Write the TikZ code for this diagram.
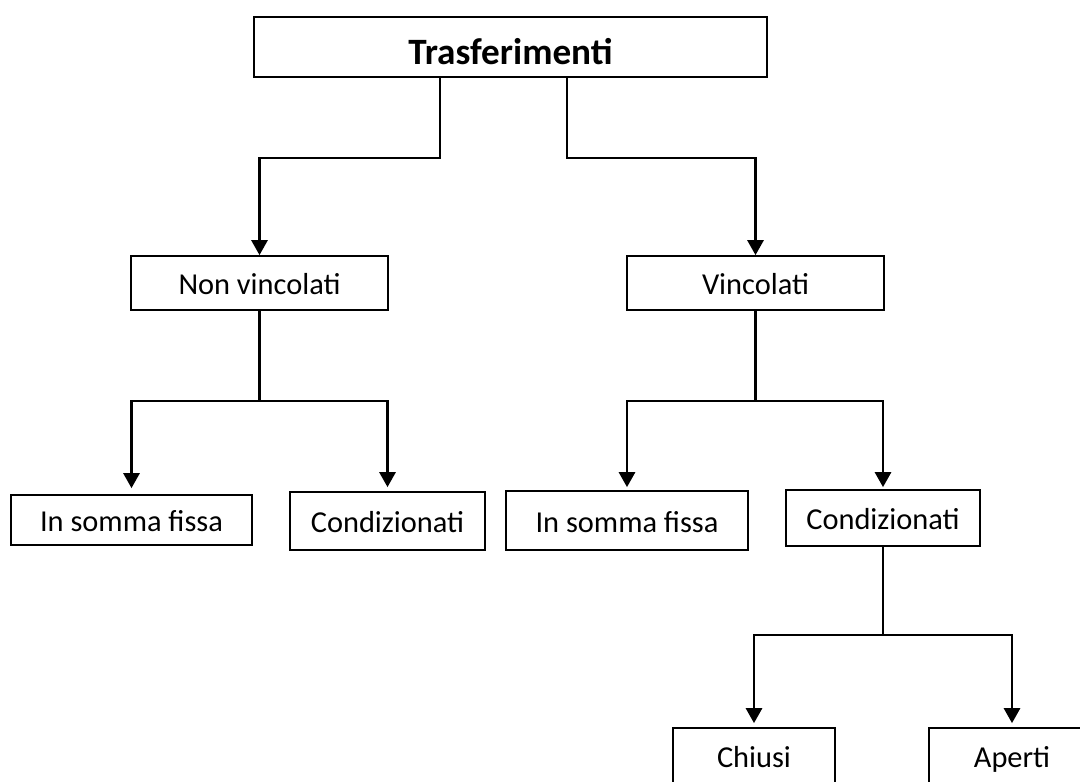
\documentclass[tikz,border=0pt]{standalone}
\usepackage{fontspec}
\setmainfont{Carlito}
\usepackage{tikz}
\usetikzlibrary{arrows.meta,positioning,calc}
\tikzset{
  nbox/.style={rectangle,draw=black,line width=0.85pt,fill=white,
               minimum width=#1,minimum height=27pt,inner sep=0pt,
               text height=11.5pt,text depth=0pt,font=\fontsize{15.2}{18}\selectfont},
  nbox/.default=128.5pt,
  tbox/.style={rectangle,draw=black,line width=0.85pt,fill=white,
               minimum width=256.5pt,minimum height=30pt,inner sep=0pt,
               text height=18pt,text depth=0pt,font=\fontsize{18.6}{22}\selectfont\bfseries},
  arr/.style={-{Triangle[width=8pt,length=7.5pt]},line width=1.4pt},
  conn/.style={line width=1.4pt},
}
\begin{document}
\begin{tikzpicture}[x=0.5pt,y=-0.5pt]
    \useasboundingbox (0,0) rectangle (1080,781);
    \fill[white] (0,0) rectangle (1080,781);
    % level 0
    \node[tbox] (top) at (510.5,47) {Trasferimenti};
    % level 1
    \node[nbox] (nv) at (259.5,283) {Non vincolati};
    \node[nbox] (vi) at (755.5,283) {Vincolati};
    % level 2
    \node[nbox=120.5pt,minimum height=25pt] (sfl) at (131.5,520) {In somma fissa};
    \node[nbox=97.5pt,minimum height=29pt] (col) at (387.5,521) {Condizionati};
    \node[nbox=121pt,minimum height=29.5pt] (sfr) at (627,520.5) {In somma fissa};
    \node[nbox=97pt,minimum height=28pt] (cor) at (883,518) {Condizionati};
    % level 3
    \node[nbox=81pt,minimum height=28pt] (chi) at (754,756) {Chiusi};
    \node[nbox=83pt,minimum height=28pt] (ape) at (1012,756) {Aperti};
    % junctions
    \coordinate (jl) at (259.5,158);
    \coordinate (jr) at (755.5,158);
    \coordinate (nvj) at (259.5,401);
    \coordinate (vij) at (755.5,401);
    \coordinate (coj) at (883,635);
    % connectors
    \draw[arr] ([xshift=-35.25pt]top.south) |- (jl) -- (nv.north);
    \draw[arr] ([xshift=28.25pt]top.south) |- (jr) -- (vi.north);
    \draw[conn] (nv.south) -- (nvj);
    \draw[arr,shorten >=3pt] (nvj) -| (sfl.north);
    \draw[arr,shorten >=2pt] (nvj) -| (col.north);
    \draw[conn] (vi.south) -- (vij);
    \draw[arr,shorten >=1.5pt] (vij) -| (sfr.north);
    \draw[arr,shorten >=1pt] (vij) -| (cor.north);
    \draw[conn] (cor.south) -- (coj);
    \draw[arr,shorten >=2pt] (coj) -| (chi.north);
    \draw[arr,shorten >=2pt] (coj) -| (ape.north);
  \end{tikzpicture}
\end{document}
